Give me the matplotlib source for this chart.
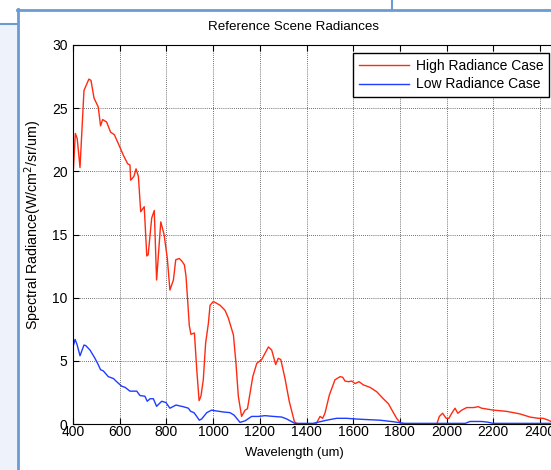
import numpy as np
import matplotlib
matplotlib.use("Agg")
import matplotlib.pyplot as plt
from matplotlib.patches import Rectangle
from matplotlib.lines import Line2D

# values
high_wl = [400, 410, 418, 430, 447, 468, 477, 490, 508, 518, 527, 544, 561, 577,
           594, 615, 634, 644, 647, 661, 670, 680, 690, 705, 716, 722, 737, 748,
           758, 776, 790, 804, 815, 830, 840, 855, 866, 877, 884, 891, 898, 905,
           920, 930, 940, 948, 958, 968, 980, 987, 1001, 1030, 1051, 1065, 1087,
           1098, 1108, 1122, 1137, 1147, 1170, 1187, 1208, 1237, 1251, 1268, 1279,
           1290, 1308, 1326, 1337, 1348, 1360, 1441, 1458, 1469, 1479, 1498, 1522,
           1544, 1555, 1565, 1579, 1594, 1608, 1625, 1643, 1672, 1701, 1729, 1751,
           1769, 1786, 1797, 1805, 1958, 1969, 1983, 1998, 2010, 2022, 2036, 2048,
           2065, 2086, 2115, 2136, 2150, 2200, 2257, 2314, 2357, 2393, 2414, 2436,
           2447, 2500]
high_val = [19.6, 23.0, 22.6, 20.3, 26.4, 27.3, 27.2, 25.8, 25.1, 23.6, 24.1, 23.9,
            23.1, 22.9, 22.2, 21.3, 20.6, 20.5, 19.3, 19.6, 20.2, 19.6, 16.8, 17.2,
            13.3, 13.4, 16.3, 16.9, 11.4, 16.0, 15.0, 13.1, 10.6, 11.4, 13.0, 13.1,
            12.9, 12.6, 11.7, 9.8, 7.8, 7.1, 7.2, 4.3, 1.85, 2.2, 3.5, 6.4, 8.0, 9.4,
            9.7, 9.4, 9.0, 8.4, 7.05, 4.8, 2.2, 0.6, 1.1, 1.2, 3.75, 4.8, 5.1, 6.1,
            5.85, 4.7, 5.2, 5.1, 3.6, 1.8, 1.0, 0.2, 0.0, 0.0, 0.6, 0.45, 0.85, 2.3,
            3.5, 3.75, 3.7, 3.4, 3.35, 3.4, 3.2, 3.35, 3.1, 2.9, 2.55, 2.0, 1.6, 1.0,
            0.45, 0.2, 0.0, 0.0, 0.6, 0.85, 0.45, 0.45, 0.85, 1.25, 0.85, 1.1, 1.3,
            1.3, 1.37, 1.25, 1.1, 1.0, 0.8, 0.55, 0.45, 0.45, 0.3, 0.2, 0.05]

low_wl = [400, 409, 418, 430, 447, 455, 473, 494, 508, 518, 530, 551, 573, 587,
          608, 623, 644, 673, 687, 708, 718, 730, 744, 758, 780, 798, 815, 841,
          872, 894, 904, 918, 930, 941, 951, 973, 994, 1008, 1044, 1072, 1090,
          1101, 1115, 1137, 1165, 1194, 1222, 1258, 1294, 1315, 1337, 1350, 1428,
          1486, 1529, 1572, 1608, 1658, 1715, 1772, 1800, 1820, 2080, 2100, 2150,
          2175, 2200, 2500]
low_val = [6.1, 6.7, 6.25, 5.4, 6.25, 6.2, 5.85, 5.2, 4.7, 4.3, 4.2, 3.75, 3.6,
           3.35, 3.0, 2.9, 2.6, 2.6, 2.25, 2.2, 1.8, 2.0, 2.0, 1.4, 1.8, 1.7, 1.25,
           1.5, 1.37, 1.25, 1.0, 0.9, 0.6, 0.3, 0.4, 0.9, 1.1, 1.05, 0.95, 0.9,
           0.7, 0.45, 0.13, 0.25, 0.6, 0.6, 0.66, 0.6, 0.55, 0.4, 0.18, 0.05, 0.05,
           0.3, 0.45, 0.45, 0.4, 0.35, 0.3, 0.18, 0.1, 0.05, 0.05, 0.2, 0.2, 0.15,
           0.05, 0.05]

x_ticks = [400, 600, 800, 1000, 1200, 1400, 1600, 1800, 2000, 2200, 2400]
y_ticks = [0, 5, 10, 15, 20, 25, 30]

W, H = 551, 470
plt.rcParams['font.family'] = ['Liberation Sans', 'DejaVu Sans']
plt.rcParams['font.size'] = 10

fig = plt.figure(figsize=(W / 100, H / 100), dpi=100)
fig.patch.set_facecolor('white')

# screenshot surroundings (pixel coords from top-left)
def px_rect(x, y, w, h, **kw):
    fig.add_artist(Rectangle((x / W, 1 - (y + h) / H), w / W, h / H,
                             transform=fig.transFigure, **kw))

def px_line(x0, y0, x1, y1, **kw):
    fig.add_artist(Line2D([x0 / W, x1 / W], [1 - y0 / H, 1 - y1 / H],
                          transform=fig.transFigure, **kw))

border = '#6a9bd3'
px_rect(0, 24, 17, H - 24, facecolor='#eef3fb', edgecolor='none')
px_line(0, 24, 17, 24, color=border, lw=1.5)
px_line(17.5, 9, 17.5, H, color=border, lw=2)
px_line(17, 9.5, W, 9.5, color=border, lw=2)
px_line(392, 0, 392, 9, color=border, lw=1.5)

# axes: 400 at x=73, 30 at y=45, 0 at y=424; xlim goes past the picture edge
left = 73 / W
bottom = (H - 424) / H
height = (424 - 45) / H
ax_w_px = 2100 * 46.7 / 200
ax = fig.add_axes([left, bottom, ax_w_px / W, height])

ax.plot(high_wl, high_val, color='#ff2a10', lw=1.0, label='High Radiance Case')
ax.plot(low_wl, low_val, color='#1f3cff', lw=1.0, label='Low Radiance Case')

ax.set_xlim(400, 2500)
ax.set_ylim(0, 30)
ax.set_xticks(x_ticks)
ax.set_yticks(y_ticks)
ax.grid(True, color='black', linestyle=(0, (1, 1.5)), linewidth=0.6, alpha=0.75)
ax.tick_params(direction='in', length=4, width=0.8, top=True, right=True)
ax.tick_params(axis='x', pad=1)
ax.tick_params(axis='y', pad=4)
for s in ax.spines.values():
    s.set_linewidth(0.8)

# title and labels sit centred at x=294 px in the reference
cx = (294 - 73) / ax_w_px
ax.set_title('Reference Scene Radiances', fontsize=9.6, x=cx, pad=11)
ax.set_xlabel('Wavelength (um)', fontsize=9.4)
ax.xaxis.set_label_coords(cx, -0.062)
ax.set_ylabel('Spectral Radiance(W/cm$^2$/sr/um)', fontsize=10.3)
ax.yaxis.set_label_coords((44 - 73) / ax_w_px, (424 - 225) / 379)

leg = ax.legend(loc='upper left',
                bbox_to_anchor=((353 - 73) / ax_w_px, (424 - 53) / 379),
                fancybox=False, edgecolor='black', framealpha=1, handlelength=3.6,
                borderpad=0.4, labelspacing=0.35, handletextpad=0.5, borderaxespad=0)
leg.get_frame().set_linewidth(1.0)

fig.savefig('out.png', dpi=100)
